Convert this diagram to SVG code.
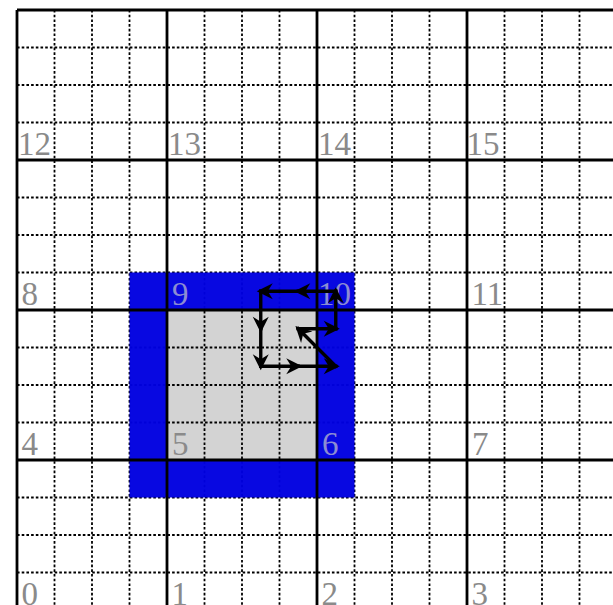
<svg xmlns="http://www.w3.org/2000/svg" width="613" height="605" viewBox="0 0 613 605">
<style>
.dot{stroke:#000;stroke-width:1.8;stroke-dasharray:2.6 2.1;fill:none}
.thick{stroke:#000;stroke-width:2.8;fill:none}
.lbl{font-family:"Liberation Serif","Times New Roman",serif;font-size:33px;fill:#8a8a8a}
.lblb{fill:#8c8cd2}
.arr{stroke:#000;stroke-width:3.4;fill:none;stroke-linecap:square;marker-end:url(#ah)}
</style>
<defs>
<marker id="ah" markerUnits="userSpaceOnUse" markerWidth="30" markerHeight="30" viewBox="-15 -15 30 30" refX="0" refY="0" orient="auto">
<path d="M4,0 L-12,-8 L-7,0 L-12,8 Z" fill="#000"/>
</marker>
</defs>
<rect x="0" y="0" width="613" height="605" fill="#fff"/>
<rect id="inner" x="167" y="310" width="150" height="150" fill="#d3d3d3"/>
<g id="dotted" class="dot">
<path d="M54.5,10V605M92,10V605M129.5,10V605M204.5,10V605M242,10V605M279.5,10V605M354.5,10V605M392,10V605M429.5,10V605M504.5,10V605M542,10V605M579.5,10V605"/>
<path d="M17,47.5H613M17,85H613M17,122.5H613M17,197.5H613M17,235H613M17,272.5H613M17,347.5H613M17,385H613M17,422.5H613M17,497.5H613M17,535H613M17,572.5H613"/>
</g>
<g id="labels" class="lbl">
<text x="18" y="155">12</text>
<text x="168" y="155">13</text>
<text x="318" y="155">14</text>
<text x="466.5" y="155">15</text>
<text x="21.5" y="305">8</text>
<text x="471.5" y="305">11</text>
<text x="21.5" y="455">4</text>
<text x="472" y="455">7</text>
<text x="21.5" y="605">0</text>
<text x="171.5" y="605">1</text>
<text x="321.5" y="605">2</text>
<text x="471.5" y="605">3</text>
<text x="172" y="455">5</text>
</g>
<path id="ring" fill="#0000e0" fill-opacity="0.97" fill-rule="evenodd" d="M129.5,272.5H354.5V497.5H129.5Z M167,310V460H317V310Z"/>
<g id="labels-blue" class="lbl">
<text class="lblb" x="172" y="305">9</text>
<text class="lblb" x="318" y="305">10</text>
<text class="lblb" x="322" y="455">6</text>
</g>
<g id="grid" class="thick">
<path d="M17,10V605M167,10V605M317,10V605M467,10V605"/>
<path d="M17,10H613M17,160H613M17,310H613M17,460H613"/>
</g>
<g id="connectors">
<line class="arr" x1="335.75" y1="291.25" x2="298.25" y2="291.25"/>
<line class="arr" x1="298.25" y1="291.25" x2="260.75" y2="291.25"/>
<line class="arr" x1="260.75" y1="291.25" x2="260.75" y2="328.75"/>
<line class="arr" x1="260.75" y1="328.75" x2="260.75" y2="366.25"/>
<line class="arr" x1="260.75" y1="366.25" x2="298.25" y2="366.25"/>
<line class="arr" x1="298.25" y1="366.25" x2="335.75" y2="366.25"/>
<line class="arr" x1="335.75" y1="366.25" x2="298.25" y2="328.75"/>
<line class="arr" x1="298.25" y1="328.75" x2="335.75" y2="328.75"/>
<line class="arr" x1="335.75" y1="328.75" x2="335.75" y2="291.25"/>
</g>
</svg>
